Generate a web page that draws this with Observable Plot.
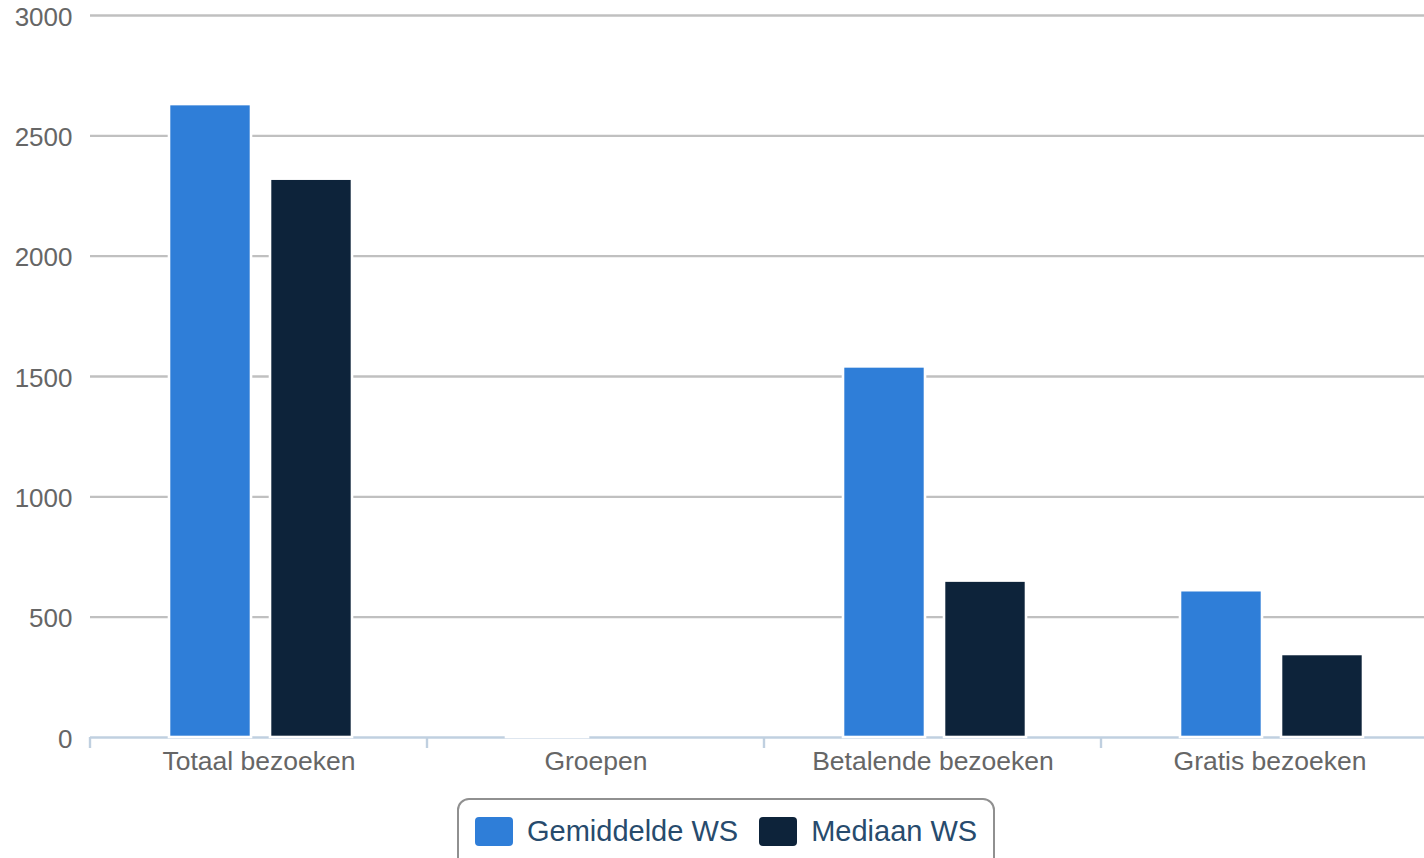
<!DOCTYPE html>
<html>
<head>
<meta charset="utf-8">
<script src="https://cdn.jsdelivr.net/npm/d3@7"></script>
<script src="https://cdn.jsdelivr.net/npm/@observablehq/plot@0.6"></script>
<style>
  html, body { margin: 0; padding: 0; background: #fff; overflow: hidden; }
  body { width: 1424px; height: 858px; position: relative; font-family: "Liberation Sans", Arial, Helvetica, sans-serif; }
  #chart { position: absolute; left: 0; top: 0; }
  #legend {
    position: absolute; left: 457px; top: 798px; width: 538px; height: 80px;
    border: 2.4px solid #909090; border-radius: 12px; box-sizing: border-box;
    display: flex; flex-wrap: nowrap; align-items: flex-start; padding: 15px 0 0 16px; background: #fff;
  }
  .item { display: flex; align-items: center; margin-right: 21px; flex-shrink: 0; white-space: nowrap; }
  .sw { width: 38px; height: 29px; border-radius: 4px; margin-right: 14px; flex-shrink: 0; }
  .lab { font-size: 29px; color: #274b6d; line-height: 32px; white-space: nowrap; }
</style>
</head>
<body>
<div id="chart"></div>
<div id="legend"></div>
<script>
const categories = ["Totaal bezoeken", "Groepen", "Betalende bezoeken", "Gratis bezoeken"];
const seriesNames = ["Gemiddelde WS", "Mediaan WS"];
const gemiddelde = [2630, 2, 1540, 610];
const mediaan = [2320, 0, 650, 345];
const seriesColors = ["#2f7ed8", "#0d233a"];
const yTicks = [0, 500, 1000, 1500, 2000, 2500, 3000];

const data = [];
categories.forEach((c, i) => {
  data.push({category: c, series: seriesNames[0], value: gemiddelde[i]});
  data.push({category: c, series: seriesNames[1], value: mediaan[i]});
});

const boundaryTick = (index, scales, values, dims) => {
  const y0 = scales.y(0);
  const g = d3.create("svg:g");
  g.append("line")
    .attr("x1", dims.marginLeft).attr("x2", dims.marginLeft)
    .attr("y1", y0).attr("y2", y0 + 11)
    .attr("stroke", "#C0D0E0").attr("stroke-width", 2.4);
  return g.node();
};

const chart = Plot.plot({
  width: 1424,
  height: 790,
  marginTop: 15,
  marginBottom: 53,
  marginLeft: 90,
  marginRight: 0,
  style: {fontFamily: "'Liberation Sans', Arial, Helvetica, sans-serif", background: "#fff"},
  fx: {domain: categories, range: [90, 1438], padding: 0},
  x: {domain: seriesNames, paddingInner: 0.188, paddingOuter: 0.762, align: 0.513, axis: null},
  y: {domain: [0, 3000]},
  color: {domain: seriesNames, range: seriesColors},
  marks: [
    Plot.gridY(yTicks.filter(d => d > 0), {stroke: "#C0C0C0", strokeOpacity: 1, strokeWidth: 2.4}),
    Plot.ruleY([0], {stroke: "#C0D0E0", strokeWidth: 2.4}),
    boundaryTick,
    Plot.barY(data, {fx: "category", x: "series", y: "value", fill: "series", stroke: "#fff", strokeWidth: 2.6}),
    Plot.axisY(yTicks, {tickSize: 0, tickPadding: 18, fontSize: 26, fill: "#666", label: null, dy: 2, tickFormat: d => String(d)}),
    Plot.axisFx({anchor: "bottom", tickSize: 0, tickPadding: 14, fontSize: 26.5, fill: "#666", label: null})
  ]
});
document.getElementById("chart").appendChild(chart);

const legend = document.getElementById("legend");
seriesNames.forEach((s, i) => {
  const it = document.createElement("div");
  it.className = "item";
  const sw = document.createElement("div");
  sw.className = "sw";
  sw.style.background = seriesColors[i];
  const lab = document.createElement("span");
  lab.className = "lab";
  lab.textContent = s;
  it.appendChild(sw); it.appendChild(lab);
  legend.appendChild(it);
});
</script>
</body>
</html>
